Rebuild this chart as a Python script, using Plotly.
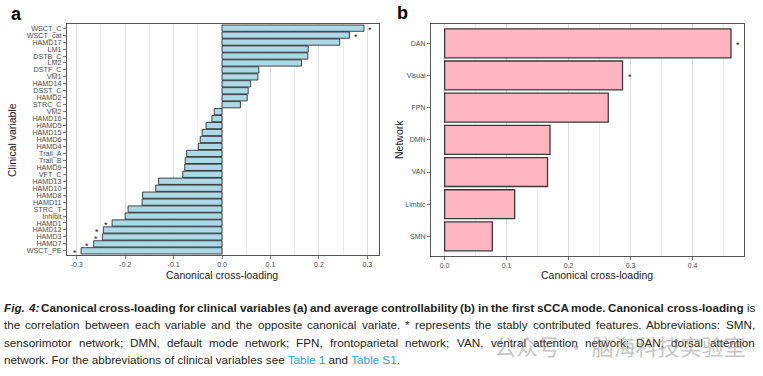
import plotly.graph_objects as go

# ---------------- data ----------------
clinical_vars = ["WSCT_C", "WSCT_cat", "HAMD17", "LM1", "DSTB_C", "LM2", "DSTF_C", "VM1",
                 "HAMD14", "DSST_C", "HAMD2", "STRC_C", "VM2", "HAMD16", "HAMD5", "HAMD15",
                 "HAMD6", "HAMD4", "Trail_A", "Trail_B", "HAMD9", "VFT_C", "HAMD13", "HAMD10",
                 "HAMD8", "HAMD11", "STRC_T", "Inhibit", "HAMD1", "HAMD12", "HAMD3", "HAMD7",
                 "WSCT_PE"]
clinical_loadings = [0.293, 0.263, 0.243, 0.178, 0.177, 0.164, 0.076, 0.074,
                     0.059, 0.054, 0.052, 0.038, -0.016, -0.021, -0.033, -0.041,
                     -0.045, -0.049, -0.073, -0.076, -0.077, -0.081, -0.131, -0.137,
                     -0.164, -0.165, -0.194, -0.200, -0.227, -0.245, -0.247, -0.265,
                     -0.291]
clinical_stable = ["WSCT_C", "WSCT_cat", "HAMD1", "HAMD12", "HAMD3", "HAMD7", "WSCT_PE"]

networks = ["DAN", "Visual", "FPN", "DMN", "VAN", "Limbic", "SMN"]
network_loadings = [0.462, 0.287, 0.264, 0.170, 0.166, 0.113, 0.077]
network_stable = ["DAN", "Visual"]

a_ticks = [-0.3, -0.2, -0.1, 0.0, 0.1, 0.2, 0.3]
a_ticklabels = ["-0.3", "-0.2", "-0.1", "0.0", "0.1", "0.2", "0.3"]
b_ticks = [0.0, 0.1, 0.2, 0.3, 0.4]
b_ticklabels = ["0.0", "0.1", "0.2", "0.3", "0.4"]
a_minor = [-0.3, -0.25, -0.2, -0.15, -0.1, -0.05, 0.0, 0.05, 0.1, 0.15, 0.2, 0.25, 0.3]
b_minor = [0.0, 0.05, 0.1, 0.15, 0.2, 0.25, 0.3, 0.35, 0.4, 0.45]

# caption words: (text, style) with style r=regular, b=bold, bi=bold italic
caption_line1 = [("Fig.", "bi"), ("4:", "bi"), ("Canonical", "b"), ("cross-loading", "b"),
                 ("for", "b"), ("clinical", "b"), ("variables", "b"), ("(a)", "b"), ("and", "b"),
                 ("average", "b"), ("controllability", "b"), ("(b)", "b"), ("in", "b"),
                 ("the", "b"), ("first", "b"), ("sCCA", "b"), ("mode.", "b"),
                 ("Canonical", "b"), ("cross-loading", "b"), ("is", "r")]
caption_line2 = "the correlation between each variable and the opposite canonical variate. * represents the stably contributed features. Abbreviations: SMN,"
caption_line3 = "sensorimotor network; DMN, default mode network; FPN, frontoparietal network; VAN, ventral attention network; DAN, dorsal attention"
caption_line4 = ("network. For the abbreviations of clinical variables see "
                 "<span style='color:#2b9fd3'>Table 1</span> and "
                 "<span style='color:#2b9fd3'>Table S1</span>.")
watermark = "公众号 · 脑海科技实验室"

W, H = 763, 376
def X(px): return px / W
def Y(py): return 1 - py / H

FONT = "Liberation Sans, Arial, Helvetica, sans-serif"

# Helvetica / Arial (Liberation Sans) advance widths, per 1000 em
_REG = dict(zip(" !\"#$%&'()*+,-./0123456789:;<=>?@", [278, 278, 355, 556, 556, 889, 667, 191, 333, 333, 389, 584, 278, 333, 278, 278] + [556] * 10 + [278, 278, 584, 584, 584, 556, 1015]))
_REG.update(dict(zip("ABCDEFGHIJKLMNOPQRSTUVWXYZ", [667, 667, 722, 722, 667, 611, 778, 722, 278, 500, 667, 556, 833, 722, 778, 667, 778, 722, 667, 611, 722, 667, 944, 667, 667, 611])))
_REG.update(dict(zip("abcdefghijklmnopqrstuvwxyz", [556, 556, 500, 556, 556, 278, 556, 556, 222, 222, 500, 222, 833, 556, 556, 556, 556, 333, 500, 278, 556, 500, 722, 500, 500, 500])))
_BOLD = dict(zip(" ()*,-.:;", [278, 333, 333, 389, 278, 333, 278, 333, 333]))
_BOLD.update({d: 556 for d in "0123456789"})
_BOLD.update(dict(zip("ABCDEFGHIJKLMNOPQRSTUVWXYZ", [722, 722, 722, 722, 667, 611, 778, 722, 278, 556, 722, 611, 833, 722, 778, 667, 778, 722, 667, 611, 722, 667, 944, 667, 667, 611])))
_BOLD.update(dict(zip("abcdefghijklmnopqrstuvwxyz", [556, 611, 556, 611, 556, 333, 611, 611, 278, 278, 556, 278, 889, 611, 611, 611, 611, 389, 556, 333, 611, 556, 778, 556, 556, 500])))

def width_units(word, style):
    table = _REG if style == "r" else _BOLD
    return sum(table.get(ch, 556) for ch in word) / 1000.0

fig = go.Figure()
fig.add_trace(go.Bar(x=clinical_loadings, y=clinical_vars, orientation="h", width=0.9,
                     marker=dict(color="#ADD8E6", line=dict(color="#1a1a1a", width=0.8)),
                     xaxis="x", yaxis="y", hoverinfo="skip"))
fig.add_trace(go.Bar(x=network_loadings, y=networks, orientation="h", width=0.9,
                     marker=dict(color="#FFB6C1", line=dict(color="#3a3a3a", width=1.3)),
                     xaxis="x2", yaxis="y2", hoverinfo="skip"))

annotations = []
for v, c in zip(clinical_loadings, clinical_vars):
    if c in clinical_stable:
        annotations.append(dict(x=v + (0.013 if v > 0 else -0.013), y=c, xref="x", yref="y",
                                text="*", showarrow=False, yshift=-2,
                                font=dict(size=9, color="#1a1a1a", family=FONT)))
for v, c in zip(network_loadings, networks):
    if c in network_stable:
        annotations.append(dict(x=v + 0.012, y=c, xref="x2", yref="y2",
                                text="*", showarrow=False, yshift=-2,
                                font=dict(size=9, color="#1a1a1a", family=FONT)))

# axis titles and panel labels
title_font = dict(size=10.5, color="#1a1a1a", family=FONT)
annotations += [
    dict(x=X(222), y=Y(275), xref="paper", yref="paper", text="Canonical cross-loading",
         showarrow=False, font=title_font, xanchor="center", yanchor="middle"),
    dict(x=X(597), y=Y(275), xref="paper", yref="paper", text="Canonical cross-loading",
         showarrow=False, font=title_font, xanchor="center", yanchor="middle"),
    dict(x=X(12), y=Y(140), xref="paper", yref="paper", text="Clinical variable",
         showarrow=False, font=title_font, textangle=-90, xanchor="center", yanchor="middle"),
    dict(x=X(399), y=Y(140), xref="paper", yref="paper", text="Network",
         showarrow=False, font=title_font, textangle=-90, xanchor="center", yanchor="middle"),
    dict(x=X(16), y=Y(14), xref="paper", yref="paper", text="<b>a</b>",
         showarrow=False, font=dict(size=18, color="black", family=FONT), xanchor="center", yanchor="middle"),
    dict(x=X(402), y=Y(13), xref="paper", yref="paper", text="<b>b</b>",
         showarrow=False, font=dict(size=18, color="black", family=FONT), xanchor="center", yanchor="middle"),
]

# ---- caption: fully justified, word by word ----
CAP_L, CAP_R = 4, 755
cap_color = "#231f20"
just_lines = [
    (307, caption_line1),
    (324, [(w, "r") for w in caption_line2.split(" ")]),
    (342, [(w, "r") for w in caption_line3.split(" ")]),
]
target = CAP_R - CAP_L
cap_size = 12.0
for _, words in just_lines:
    units = sum(width_units(w, s) for w, s in words) + 0.24 * (len(words) - 1)
    cap_size = min(cap_size, target / units)

def styled(w, s):
    if s == "b":
        return "<b>" + w + "</b>"
    if s == "bi":
        return "<b><i>" + w + "</i></b>"
    return w

for py, words in just_lines:
    widths = [width_units(w, s) * cap_size for w, s in words]
    gap = (target - sum(widths)) / (len(words) - 1)
    xpos = CAP_L
    for (w, s), wd in zip(words, widths):
        annotations.append(dict(x=X(xpos), y=Y(py), xref="paper", yref="paper",
                                text=styled(w, s), showarrow=False, borderpad=0, borderwidth=0,
                                font=dict(size=cap_size, color=cap_color, family=FONT),
                                xanchor="left", yanchor="middle"))
        xpos += wd + gap

annotations.append(dict(x=X(CAP_L), y=Y(359), xref="paper", yref="paper", text=caption_line4,
                        showarrow=False, borderpad=0, borderwidth=0,
                        font=dict(size=cap_size, color=cap_color, family=FONT),
                        xanchor="left", yanchor="middle"))

# watermark
annotations.append(dict(x=X(620), y=Y(345), xref="paper", yref="paper",
                        text=watermark, showarrow=False, opacity=0.5,
                        font=dict(size=22, color="#8c8c8c", family="Noto Sans CJK SC"),
                        xanchor="center", yanchor="middle"))

axis_common = dict(showline=True, mirror=True, linecolor="#555555", linewidth=1,
                   ticks="outside", ticklen=3, tickcolor="#555555", tickwidth=0.8,
                   zeroline=False, fixedrange=True)
xgrid = dict(showgrid=True, gridcolor="#dedede", gridwidth=1)

fig.update_layout(
    width=W, height=H, autosize=False,
    margin=dict(l=0, r=0, t=0, b=0),
    paper_bgcolor="white", plot_bgcolor="white",
    showlegend=False, bargap=0,
    font=dict(family=FONT),
    xaxis=dict(domain=[X(67), X(379)], range=[-0.32, 0.324], anchor="y",
               tickmode="array", tickvals=a_ticks, ticktext=a_ticklabels,
               tickfont=dict(size=7, color="#4d4d4d"),
               minor=dict(tickmode="array", tickvals=a_minor, showgrid=True,
                          gridcolor="#e9e9e9", gridwidth=0.8, ticks=""),
               **xgrid, **axis_common),
    yaxis=dict(domain=[Y(255), Y(24)], anchor="x",
               categoryorder="array", categoryarray=clinical_vars,
               range=[len(clinical_vars) - 0.4, -0.6],
               tickmode="array", tickvals=clinical_vars, ticktext=clinical_vars,
               tickfont=dict(size=7.2, color="#4d4d4d"),
               showgrid=False, **axis_common),
    xaxis2=dict(domain=[X(431), X(744)], range=[-0.022, 0.483], anchor="y2",
                tickmode="array", tickvals=b_ticks, ticktext=b_ticklabels,
                tickfont=dict(size=7, color="#4d4d4d"),
                minor=dict(tickmode="array", tickvals=b_minor, showgrid=True,
                           gridcolor="#e9e9e9", gridwidth=0.8, ticks=""),
                **xgrid, **axis_common),
    yaxis2=dict(domain=[Y(255.7), Y(24)], anchor="x2",
                categoryorder="array", categoryarray=networks,
                range=[len(networks) - 0.4, -0.6],
                tickmode="array", tickvals=networks, ticktext=networks,
                tickfont=dict(size=7, color="#4d4d4d"),
                showgrid=False, **axis_common),
    annotations=annotations,
)

# remove the browser's default 8px body margin so the figure sits at the page origin
fig.write_html("out.html",
               config={"displayModeBar": False, "staticPlot": True},
               post_script="document.body.style.margin='0';document.body.style.padding='0';")
